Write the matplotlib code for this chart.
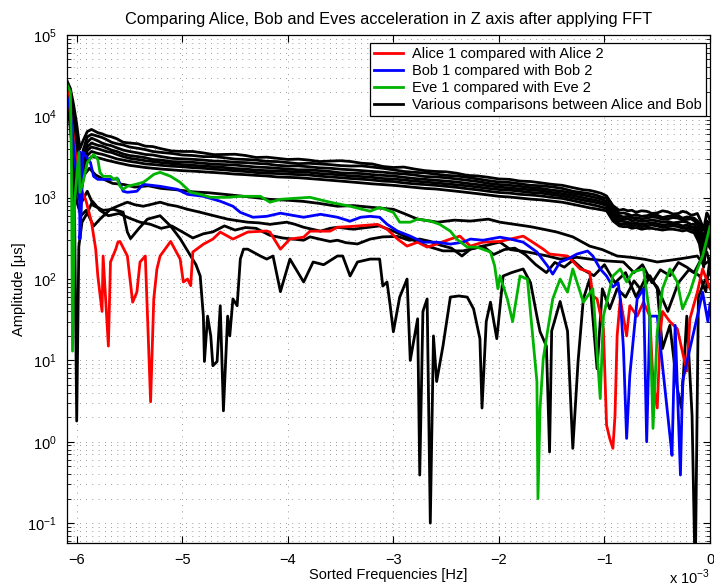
import matplotlib
matplotlib.use("Agg")
import matplotlib.pyplot as plt
from matplotlib.ticker import LogLocator, FixedLocator, NullFormatter

plt.rcParams['font.family'] = ['Liberation Sans', 'DejaVu Sans']
plt.rcParams['mathtext.fontset'] = 'custom'
plt.rcParams['mathtext.rm'] = 'Liberation Sans'

# frequencies in units of 1e-3 Hz, amplitudes in microseconds

# ---- Alice 1 vs Alice 2 ----
alice_f = [-6.09, -6.05, -6.0, -5.95, -5.91, -5.86, -5.82, -5.8, -5.76, -5.75,
           -5.7, -5.68, -5.63, -5.61, -5.59, -5.52, -5.47, -5.43, -5.4, -5.35,
           -5.3, -5.27, -5.24, -5.21, -5.11, -5.02, -4.99, -4.95, -4.92, -4.9,
           -4.8, -4.71, -4.64, -4.52, -4.38, -4.2, -4.17, -4.07, -3.98, -3.85,
           -3.79, -3.6, -3.53, -3.38, -3.15, -3.06, -2.96, -2.87, -2.77, -2.68,
           -2.59, -2.46, -2.37, -2.27, -2.15, -1.99, -1.77, -1.68, -1.58, -1.52,
           -1.35, -1.23, -1.14, -1.11, -1.07, -1.01, -0.98, -0.95, -0.92, -0.9,
           -0.88, -0.85, -0.79, -0.76, -0.69, -0.63, -0.57, -0.54, -0.5, -0.47,
           -0.45, -0.38, -0.31, -0.22, -0.19, -0.12, -0.07, 0.0]
alice_a = [22000, 9000, 2500, 1200, 900, 500, 233, 109, 40, 192,
           15, 162, 233, 284, 290, 192, 52, 69, 162, 192,
           3.1, 57, 133, 192, 290, 176, 92, 100, 83, 215,
           268, 310, 378, 310, 378, 390, 378, 233, 310, 327,
           388, 388, 433, 445, 470, 411, 310, 254, 284, 247,
           269, 310, 337, 254, 284, 290, 337, 284, 233, 203,
           192, 133, 122, 62, 57, 24.5, 1.6, 1.1, 0.83, 2.1,
           20, 57, 20, 47, 35, 52, 35, 5.5, 2.6, 22.5,
           40, 30, 24.5, 7.4, 32.5, 69, 133, 76]

# ---- Bob 1 vs Bob 2 ----
bob_f = [-6.09, -6.06, -6.02, -5.99, -5.975, -5.97, -5.955, -5.94, -5.87, -5.84,
         -5.8, -5.68, -5.61, -5.56, -5.52, -5.43, -5.37, -5.21, -5.05, -4.95,
         -4.8, -4.64, -4.52, -4.45, -4.33, -4.2, -4.07, -4.01, -3.85, -3.69,
         -3.53, -3.41, -3.31, -3.22, -3.13, -3.06, -2.96, -2.84, -2.72, -2.59,
         -2.46, -2.34, -2.27, -2.15, -1.99, -1.89, -1.77, -1.64, -1.54, -1.49,
         -1.42, -1.35, -1.26, -1.16, -1.11, -1.04, -0.98, -0.92, -0.87, -0.85,
         -0.82, -0.79, -0.76, -0.69, -0.63, -0.6, -0.57, -0.5, -0.45, -0.38,
         -0.36, -0.33, -0.28, -0.26, -0.19, -0.12, -0.07, -0.02, 0.0]
bob_a = [17000, 12000, 3000, 1500, 3700, 310, 800, 3600, 2710, 1830,
         1680, 1680, 1700, 1200, 1165, 1200, 1460, 1380, 1270, 1100,
         1040, 905, 785, 660, 575, 590, 645, 625, 575, 625,
         575, 514, 575, 590, 575, 472, 388, 337, 284, 284,
         269, 284, 310, 300, 327, 310, 284, 215, 145, 115,
         162, 176, 203, 221, 192, 133, 109, 80, 90, 57,
         14, 1.1, 6.5, 57, 76, 1.0, 35, 35, 8.6, 1.2,
         0.68, 27, 0.39, 5.5, 14, 35, 69, 30, 50]

# ---- Eve 1 vs Eve 2 ----
eve_f = [-6.09, -6.06, -6.05, -6.04, -6.02, -5.98, -5.97, -5.94, -5.9, -5.84,
         -5.8, -5.78, -5.75, -5.68, -5.65, -5.62, -5.59, -5.56, -5.52, -5.45,
         -5.37, -5.33, -5.27, -5.21, -5.11, -5.02, -4.92, -4.83, -4.73, -4.57,
         -4.45, -4.26, -4.17, -4.07, -3.95, -3.79, -3.6, -3.41, -3.22, -3.13,
         -3.0, -2.94, -2.84, -2.77, -2.65, -2.56, -2.46, -2.4, -2.3, -2.21,
         -2.08, -2.04, -2.01, -1.99, -1.92, -1.87, -1.8, -1.73, -1.68, -1.64,
         -1.63, -1.61, -1.58, -1.54, -1.49, -1.42, -1.35, -1.3, -1.2, -1.11,
         -1.04, -1.01, -0.92, -0.85, -0.79, -0.73, -0.63, -0.57, -0.54, -0.5,
         -0.45, -0.38, -0.31, -0.26, -0.19, -0.12, -0.07, 0.0]
eve_a = [24400, 20000, 3000, 13, 900, 3600, 1165, 1545, 2710, 3400,
         2950, 2050, 1830, 1830, 1680, 1750, 1380, 1270, 1380, 1450,
         1545, 1680, 1935, 2050, 1830, 1545, 1165, 1100, 1010, 1010,
         1040, 1040, 880, 955, 980, 1010, 880, 785, 682, 760,
         660, 500, 500, 545, 516, 470, 388, 310, 247, 247,
         215, 145, 76, 109, 57, 30, 109, 100, 20, 5.5,
         0.2, 2.6, 10.5, 22.5, 57, 100, 69, 133, 52, 76,
         3.4, 35, 109, 133, 92, 122, 133, 35, 1.46, 22.5,
         76, 133, 92, 43, 69, 133, 192, 445]

# ---- Alice vs Bob comparisons: upper bundle ----
bundle_f = [-6.09, -6.06, -6.03, -6.00, -5.97, -5.94, -5.90, -5.86, -5.80, -5.76,
            -5.72, -5.67, -5.62, -5.56, -5.50, -5.42, -5.35, -5.28, -5.20, -5.10,
            -5.00, -4.90, -4.80, -4.70, -4.60, -4.50, -4.40, -4.30, -4.20, -4.10,
            -4.00, -3.90, -3.80, -3.70, -3.60, -3.50, -3.40, -3.30, -3.20, -3.10,
            -3.00, -2.90, -2.80, -2.70, -2.60, -2.50, -2.40, -2.30, -2.20, -2.10,
            -2.00, -1.90, -1.80, -1.70, -1.60, -1.50, -1.40, -1.30, -1.20, -1.14,
            -1.08, -1.03, -0.98, -0.92, -0.86, -0.82, -0.78, -0.74, -0.70, -0.65,
            -0.60, -0.55, -0.50, -0.45, -0.40, -0.35, -0.30, -0.26, -0.22, -0.18,
            -0.15, -0.12, -0.10, -0.08, -0.06, -0.045, -0.03, -0.015, 0.0]
bundle_a = [
    [27000, 22000, 14000, 8000, 4000, 5000, 6500, 6900, 6300, 6100,
     5800, 5600, 5300, 4800, 4700, 4600, 4300, 4250, 4000, 3750,
     3700, 3700, 3550, 3380, 3400, 3420, 3300, 3120, 3150, 3050,
     2950, 2980, 2900, 2780, 2820, 2850, 2780, 2650, 2600, 2420,
     2350, 2380, 2250, 2150, 2100, 2080, 2000, 1880, 1850, 1780,
     1700, 1680, 1600, 1580, 1520, 1460, 1420, 1330, 1250, 1230,
     1180, 1130, 1050, 800, 700, 720, 690, 700, 660, 690,
     680, 640, 650, 690, 670, 630, 640, 680, 660, 610,
     620, 640, 560, 480, 400, 520, 650, 600, 520],
    [25000, 18000, 10000, 5000, 2500, 3800, 5600, 6000, 5700, 5500,
     5200, 4800, 4600, 4450, 4200, 4050, 3900, 3700, 3600, 3500,
     3350, 3300, 3200, 3200, 3100, 2980, 2950, 2900, 2800, 2780,
     2700, 2620, 2650, 2600, 2550, 2480, 2450, 2460, 2380, 2300,
     2200, 2100, 2050, 2020, 1950, 1880, 1850, 1780, 1700, 1620,
     1560, 1540, 1480, 1420, 1400, 1360, 1300, 1200, 1150, 1120,
     1080, 1020, 980, 760, 640, 650, 630, 600, 620, 590,
     600, 620, 610, 570, 590, 600, 600, 560, 580, 570,
     560, 520, 480, 420, 300, 380, 520, 480, 430],
    [24000, 16000, 9000, 3500, 1800, 3000, 4800, 5400, 5000, 4700,
     4500, 4350, 4100, 3850, 3700, 3550, 3400, 3350, 3200, 3050,
     3000, 2960, 2900, 2820, 2800, 2720, 2700, 2640, 2600, 2500,
     2450, 2460, 2400, 2330, 2300, 2240, 2200, 2150, 2100, 2060,
     2000, 1960, 1900, 1820, 1800, 1760, 1700, 1640, 1580, 1500,
     1450, 1420, 1380, 1330, 1300, 1240, 1200, 1130, 1080, 1040,
     1000, 960, 900, 700, 600, 580, 590, 560, 570, 550,
     560, 580, 570, 540, 550, 570, 560, 530, 540, 550,
     520, 470, 420, 330, 260, 340, 460, 420, 380],
    [22000, 14000, 7000, 2800, 1500, 2600, 4200, 4700, 4400, 4300,
     4100, 3850, 3700, 3450, 3300, 3200, 3100, 2950, 2900, 2780,
     2750, 2720, 2650, 2580, 2550, 2520, 2450, 2380, 2350, 2300,
     2250, 2200, 2200, 2150, 2100, 2020, 2000, 1980, 1920, 1880,
     1850, 1780, 1720, 1680, 1640, 1600, 1560, 1500, 1450, 1400,
     1350, 1320, 1280, 1250, 1220, 1160, 1120, 1060, 1000, 960,
     930, 890, 850, 640, 560, 540, 550, 520, 530, 510,
     520, 530, 520, 500, 510, 490, 500, 510, 500, 470,
     470, 420, 380, 280, 220, 300, 400, 370, 340],
    [21000, 12000, 5000, 2000, 1300, 2300, 3800, 4200, 4000, 3850,
     3700, 3600, 3400, 3200, 3050, 2950, 2850, 2780, 2700, 2620,
     2550, 2500, 2450, 2400, 2350, 2280, 2250, 2180, 2150, 2130,
     2100, 2060, 2050, 1980, 1950, 1900, 1850, 1820, 1780, 1720,
     1700, 1650, 1600, 1560, 1520, 1480, 1440, 1400, 1350, 1300,
     1260, 1240, 1200, 1160, 1140, 1090, 1050, 990, 930, 900,
     870, 840, 800, 600, 520, 510, 500, 480, 490, 470,
     480, 490, 480, 460, 470, 480, 470, 450, 460, 440,
     430, 380, 330, 240, 180, 260, 350, 330, 300],
    [20000, 11000, 4500, 1700, 1100, 2000, 3300, 3700, 3500, 3420,
     3300, 3150, 3000, 2900, 2800, 2700, 2600, 2560, 2500, 2440,
     2400, 2340, 2300, 2240, 2200, 2140, 2100, 2040, 2000, 1980,
     1950, 1920, 1900, 1840, 1800, 1760, 1720, 1690, 1650, 1600,
     1580, 1520, 1480, 1450, 1420, 1380, 1340, 1290, 1250, 1200,
     1160, 1140, 1100, 1080, 1050, 1010, 980, 920, 860, 830,
     800, 770, 740, 560, 480, 470, 470, 450, 460, 440,
     450, 460, 450, 430, 440, 450, 440, 420, 430, 410,
     400, 340, 300, 210, 160, 230, 310, 290, 270],
    [19000, 10000, 4000, 1500, 900, 1700, 2800, 3200, 3100, 3000,
     2900, 2800, 2700, 2600, 2500, 2420, 2350, 2300, 2250, 2200,
     2150, 2120, 2080, 2040, 2000, 1950, 1920, 1880, 1850, 1800,
     1780, 1760, 1720, 1680, 1640, 1600, 1560, 1520, 1480, 1450,
     1420, 1380, 1340, 1300, 1280, 1240, 1200, 1160, 1120, 1080,
     1040, 1020, 990, 960, 940, 910, 880, 830, 780, 750,
     730, 710, 690, 520, 450, 440, 440, 420, 430, 410,
     420, 420, 410, 400, 410, 410, 400, 390, 400, 380,
     370, 310, 270, 190, 140, 200, 280, 260, 240],
]

# ---- Alice vs Bob comparisons: lower, noisier ones ----
k1_f = [-6.09, -6.05, -6.01, -5.97, -5.93, -5.88, -5.82, -5.75, -5.66, -5.55,
        -5.45, -5.32, -5.2, -5.05, -4.9, -4.75, -4.6, -4.45, -4.3, -4.17,
        -4.0, -3.85, -3.7, -3.53, -3.38, -3.2, -3.0, -2.9, -2.77, -2.58,
        -2.42, -2.27, -2.1, -1.99, -1.85, -1.7, -1.58, -1.45, -1.3, -1.14,
        -1.02, -0.88, -0.75, -0.62, -0.5, -0.38, -0.25, -0.12, -0.06, 0.0]
k1_a = [21000, 9000, 2600, 1400, 1900, 2300, 1900, 1700, 1500, 1450,
        1350, 1400, 1300, 1250, 1180, 1150, 1100, 1050, 1000, 955,
        930, 900, 850, 785, 800, 760, 720, 640, 545, 500,
        530, 516, 545, 500, 470, 440, 410, 378, 330, 254,
        230, 192, 185, 175, 162, 170, 180, 192, 150, 170]

k2_f = [-6.09, -6.05, -6.0, -5.96, -5.91, -5.84, -5.78, -5.68, -5.6, -5.52,
        -5.45, -5.37, -5.29, -5.21, -5.13, -5.05, -4.95, -4.83, -4.7, -4.57,
        -4.47, -4.38, -4.27, -4.17, -4.01, -3.93, -3.85, -3.69, -3.6, -3.53,
        -3.38, -3.25, -3.13, -3.0, -2.84, -2.68, -2.53, -2.34, -2.15, -1.99,
        -1.89, -1.73, -1.54, -1.42, -1.26, -1.14, -0.98, -0.82, -0.72, -0.64,
        -0.55, -0.47, -0.38, -0.3, -0.22, -0.15, -0.08, -0.03, 0.0]
k2_a = [19000, 6000, 900, 600, 700, 447, 545, 722, 800, 880,
        820, 785, 830, 880, 820, 785, 720, 662, 600, 545,
        520, 500, 490, 470, 500, 470, 433, 388, 420, 433,
        410, 430, 450, 388, 314, 254, 222, 222, 254, 285,
        230, 215, 192, 176, 185, 176, 167, 162, 120, 150,
        90, 130, 110, 160, 140, 120, 180, 215, 150]

k3_f = [-6.09, -6.05, -6.02, -6.0, -5.98, -5.95, -5.9, -5.85, -5.78, -5.7,
        -5.6, -5.5, -5.4, -5.3, -5.2, -5.1, -5.0, -4.9, -4.8, -4.71,
        -4.6, -4.5, -4.4, -4.3, -4.17, -4.05, -3.95, -3.85, -3.79, -3.7,
        -3.6, -3.53, -3.45, -3.34, -3.22, -3.1, -2.96, -2.85, -2.75, -2.65,
        -2.55, -2.45, -2.35, -2.27, -2.15, -2.05, -1.95, -1.85, -1.75, -1.65,
        -1.55, -1.47, -1.38, -1.3, -1.2, -1.1, -1.0, -0.9, -0.8, -0.7,
        -0.6, -0.5, -0.4, -0.3, -0.2, -0.1, -0.04, 0.0]
k3_a = [18000, 5000, 600, 1.8, 250, 500, 650, 900, 700, 600,
        640, 560, 500, 470, 420, 450, 380, 320, 360, 380,
        450, 400, 430, 420, 345, 320, 310, 300, 330, 310,
        290, 300, 280, 270, 310, 330, 334, 300, 310, 290,
        260, 240, 192, 233, 254, 200, 230, 240, 200, 150,
        120, 160, 140, 170, 130, 110, 150, 90, 120, 60,
        110, 80, 40, 90, 130, 110, 70, 180]

k5_f = [-6.09, -6.05, -6.0, -5.95, -5.9, -5.84, -5.75, -5.65, -5.56, -5.52,
        -5.49, -5.41, -5.33, -5.21, -5.11, -5.02, -4.92, -4.87, -4.83, -4.8,
        -4.79, -4.76, -4.73, -4.71, -4.67, -4.64, -4.61, -4.57, -4.55, -4.52,
        -4.48, -4.45, -4.42, -4.38, -4.33, -4.26, -4.2, -4.14, -4.07, -3.98,
        -3.85, -3.76, -3.66, -3.53, -3.48, -3.41, -3.34, -3.22, -3.13, -3.1,
        -3.06, -3.03, -3.0, -2.94, -2.87, -2.84, -2.77, -2.75, -2.72, -2.68,
        -2.65, -2.62, -2.59, -2.53, -2.46, -2.38, -2.3, -2.24, -2.18, -2.16,
        -2.12, -2.08, -2.02, -1.96, -1.88, -1.77, -1.7, -1.64, -1.61, -1.55,
        -1.52, -1.5, -1.42, -1.35, -1.3, -1.25, -1.2, -1.14, -1.07, -1.02,
        -0.95, -0.88, -0.8, -0.72, -0.64, -0.57, -0.5, -0.45, -0.38, -0.31,
        -0.27, -0.22, -0.17, -0.14, -0.11, -0.06, 0.0]
k5_a = [21000, 8000, 1500, 900, 1200, 800, 700, 720, 662, 378,
        314, 420, 545, 600, 447, 314, 192, 150, 109, 35,
        9.7, 35, 20, 8.6, 9.7, 47, 2.4, 35, 20, 57,
        47, 176, 233, 233, 215, 192, 176, 192, 70, 176,
        92, 162, 150, 192, 192, 109, 162, 176, 176, 82,
        92, 47, 22.5, 60, 100, 10, 32.5, 0.39, 40, 57,
        0.1, 20, 5.5, 15, 60, 62, 60, 43, 18.5, 2.6,
        30, 52, 18.5, 109, 120, 133, 90, 35, 22.5, 15,
        0.75, 23, 53, 23, 0.83, 9.7, 57, 100, 7.9, 76,
        43, 76, 60, 95, 70, 110, 76, 14, 27, 4.5,
        2.6, 35, 2.1, 0.02, 60, 90, 120]

x_ticks = [-6, -5, -4, -3, -2, -1, 0]
x_ticklabels = ['\u22126', '\u22125', '\u22124', '\u22123', '\u22122', '\u22121', '0']
y_ticks = [1e-1, 1e0, 1e1, 1e2, 1e3, 1e4, 1e5]

fig = plt.figure(figsize=(7.14, 5.87), dpi=100)
ax = fig.add_axes([0.0934, 0.075, 0.901, 0.8654])

lw = 2.0
for amps in bundle_a:
    ax.plot(bundle_f, amps, color='k', lw=lw)
for f, a in [(k1_f, k1_a), (k2_f, k2_a), (k3_f, k3_a), (k5_f, k5_a)]:
    ax.plot(f, a, color='k', lw=lw)
h_alice, = ax.plot(alice_f, alice_a, color=(1, 0, 0), lw=lw)
h_bob, = ax.plot(bob_f, bob_a, color=(0, 0, 1), lw=lw)
h_eve, = ax.plot(eve_f, eve_a, color=(0, 0.7, 0), lw=lw)
h_ab, = ax.plot([], [], color='k', lw=lw)

ax.set_yscale('log')
ax.set_xlim(-6.095, 0)
ax.set_ylim(0.057, 1e5)
ax.xaxis.set_major_locator(FixedLocator(x_ticks))
ax.set_xticklabels(x_ticklabels)
ax.yaxis.set_major_locator(FixedLocator(y_ticks))
ax.yaxis.set_minor_locator(LogLocator(base=10, subs=range(2, 10), numticks=50))
ax.yaxis.set_minor_formatter(NullFormatter())

ax.tick_params(which='both', direction='in', top=True, right=True, labelsize=10.5)
ax.tick_params(which='major', length=5, width=0.8)
ax.tick_params(which='minor', length=3, width=0.6)
ax.tick_params(axis='y', which='major', pad=7)
ax.tick_params(axis='x', which='major', pad=7)
for s in ax.spines.values():
    s.set_linewidth(0.9)

dots = (0, (1, 8))
ax.grid(True, which='major', linestyle=dots, linewidth=0.5, color='0.25')
ax.yaxis.grid(True, which='minor', linestyle=dots, linewidth=0.5, color='0.25')
ax.set_axisbelow(True)

ax.set_title('Comparing Alice, Bob and Eves acceleration in Z axis after applying FFT',
             fontsize=11.8, pad=8)
ax.set_xlabel('Sorted Frequencies [Hz]', fontsize=10.5, labelpad=1)
ax.set_ylabel('Amplitude [\u03bcs]', fontsize=10.5, labelpad=1)
fig.text(0.994, 0.016, r'x 10$^{-3}$', ha='right', va='center', fontsize=10.5)

leg = ax.legend([h_alice, h_bob, h_eve, h_ab],
                ['Alice 1 compared with Alice 2', 'Bob 1 compared with Bob 2',
                 'Eve 1 compared with Eve 2', 'Various comparisons between Alice and Bob'],
                loc='upper right', bbox_to_anchor=(0.994, 0.985), borderaxespad=0,
                fancybox=False, framealpha=1, edgecolor='k', fontsize=10.5,
                handlelength=2.0, handletextpad=0.6, labelspacing=0.2, borderpad=0.3)
leg.get_frame().set_linewidth(0.9)

fig.savefig('out.png', dpi=100)
